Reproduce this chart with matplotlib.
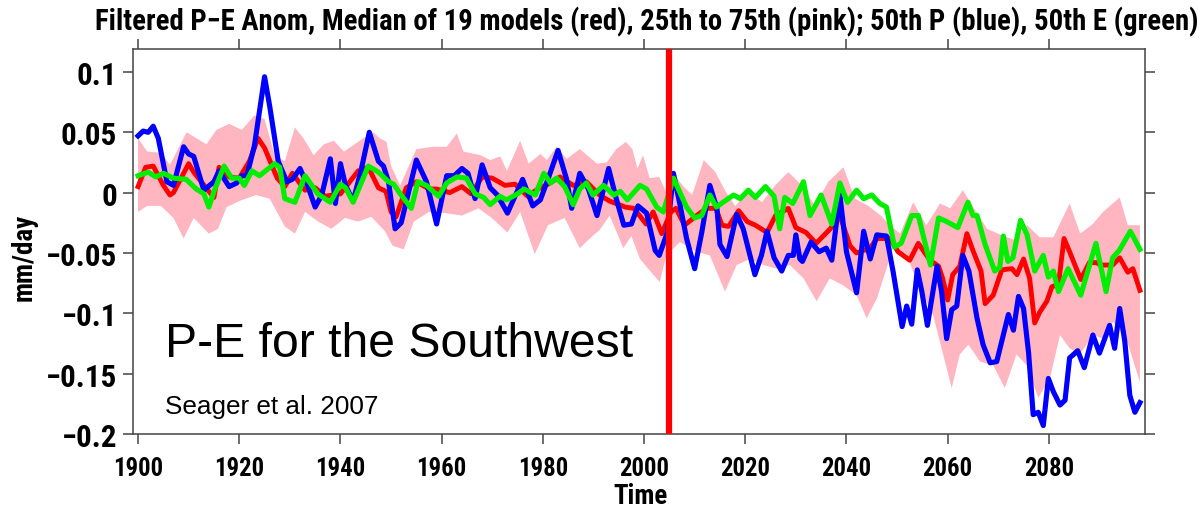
import matplotlib
matplotlib.use("Agg")
import matplotlib.pyplot as plt
from matplotlib import font_manager as fm
import numpy as np

# ---------------- data ----------------
title_text = "Filtered P\u2212E Anom, Median of 19 models (red), 25th to 75th (pink); 50th P (blue), 50th E (green)"
xticks = [1900, 1920, 1940, 1960, 1980, 2000, 2020, 2040, 2060, 2080]
yticks = [-0.2, -0.15, -0.1, -0.05, 0, 0.05, 0.1]
ytick_labels = ["\u22120.2", "\u22120.15", "\u22120.1", "\u22120.05", "0", "0.05", "0.1"]
marker_year = 2005

blue_years = [1900, 1901, 1902, 1903, 1904, 1905.7, 1907, 1909, 1910, 1911, 1913, 1915, 1916, 1918,
              1919.5, 1920.5, 1921.5, 1923, 1925, 1926, 1927.7, 1929.4, 1930.5, 1932, 1933.5, 1935,
              1936.3, 1938, 1939, 1940, 1941, 1942.5, 1944, 1945.7, 1947.5, 1948.5, 1949.5, 1950.8,
              1952, 1955, 1957, 1959, 1961, 1962.5, 1964, 1965.2, 1966.6, 1968, 1969.6, 1971, 1973,
              1974.6, 1976, 1978, 1979.5, 1981, 1983, 1984.7, 1985.7, 1987.3, 1989, 1990.7, 1993,
              1994.5, 1996, 1997.5, 1998.8, 2000.5, 2002.2, 2003, 2004.6, 2005.8, 2007.1, 2008.4,
              2010, 2011.4, 2013, 2014.4, 2015, 2016.4, 2018.3, 2019.6, 2021.9, 2023.2, 2024.3,
              2025.7, 2027.2, 2028.5, 2029.5, 2030, 2030.8, 2031.3, 2033, 2034.6, 2036, 2037.1,
              2038.7, 2040, 2042, 2043.4, 2044.7, 2046, 2047.9, 2049.2, 2051, 2051.9, 2052.9, 2054,
              2054.9, 2056, 2057.9, 2058.8, 2059.8, 2060.8, 2061.8, 2063, 2064.2, 2065.8, 2067,
              2068.4, 2069.7, 2072, 2073, 2074, 2075, 2076, 2076.9, 2077.9, 2078.9, 2079.9, 2080.9,
              2082.2, 2083.2, 2084.1, 2085.7, 2087, 2088.7, 2090, 2092, 2093, 2094, 2095, 2096,
              2097, 2098]
blue_vals = [0.047, 0.051, 0.050, 0.055, 0.045, 0.009, 0.006, 0.038, 0.032, 0.030, 0.002, 0.009, 0.018,
             0.005, 0.008, 0.014, 0.014, 0.039, 0.096, 0.072, 0.026, 0.009, 0.011, 0.020, 0.006, -0.012,
             -0.002, 0.028, -0.009, 0.024, 0.006, -0.007, 0.017, 0.050, 0.026, 0.022, 0.009, -0.030,
             -0.025, 0.027, 0.009, -0.026, 0.014, 0.014, 0.020, 0.016, -0.005, 0.023, 0.004, -0.002,
             -0.017, -0.002, 0.011, -0.011, -0.006, 0.011, 0.035, 0.011, -0.013, 0.016, 0.003, -0.019,
             0.020, -0.005, -0.027, -0.026, -0.011, -0.017, -0.048, -0.052, -0.033, 0.016, -0.010,
             -0.038, -0.063, -0.033, 0.006, -0.013, -0.043, -0.053, -0.018, -0.030, -0.068, -0.052,
             -0.032, -0.054, -0.065, -0.052, -0.052, -0.035, -0.055, -0.057, -0.041, -0.049, -0.046,
             -0.056, -0.002, -0.049, -0.083, -0.032, -0.055, -0.035, -0.036, -0.065, -0.111, -0.094,
             -0.109, -0.064, -0.082, -0.110, -0.061, -0.082, -0.121, -0.097, -0.094, -0.052, -0.065,
             -0.104, -0.126, -0.141, -0.140, -0.101, -0.114, -0.086, -0.096, -0.133, -0.184, -0.182,
             -0.193, -0.154, -0.165, -0.176, -0.172, -0.137, -0.131, -0.145, -0.118, -0.133, -0.110,
             -0.129, -0.096, -0.123, -0.168, -0.182, -0.174]

red_years = [1900, 1901.5, 1903, 1905, 1906.3, 1907, 1910, 1911, 1914, 1915, 1916, 1918, 1920, 1922,
             1923.7, 1925, 1927.5, 1929, 1930.5, 1933, 1935, 1937, 1940, 1943.5, 1945.5, 1947.5,
             1949, 1950, 1951, 1953, 1955, 1957.5, 1959, 1961.6, 1964, 1965.8, 1968, 1970, 1972.5,
             1974.5, 1977, 1979, 1981, 1983.4, 1986, 1988.6, 1991.2, 1993.2, 1996.3, 1998, 2000.4,
             2001.8, 2003.5, 2005.3, 2006.3, 2008, 2010.4, 2012.3, 2014.2, 2015.4, 2016.7, 2018.7,
             2020.4, 2022, 2024.3, 2026, 2028.5, 2030, 2032, 2034, 2036.8, 2038.7, 2040.7, 2042,
             2044.7, 2046, 2048.6, 2050.2, 2052.5, 2054.2, 2056.5, 2058.2, 2059, 2060, 2061, 2062.4,
             2063.8, 2065, 2066.6, 2067.4, 2069, 2070.7, 2072.7, 2073.7, 2075, 2076.2, 2077.2,
             2078.2, 2079.6, 2080.6, 2081.9, 2083, 2084.1, 2086.3, 2088, 2089.4, 2090.3, 2092.6,
             2094, 2095.6, 2096.6, 2098]
red_vals = [0.005, 0.021, 0.022, 0.006, -0.002, 0.000, 0.024, 0.017, 0.001, -0.004, 0.021, 0.013, 0.012,
            0.026, 0.045, 0.037, 0.012, 0.005, 0.016, 0.002, 0.004, -0.003, -0.001, 0.018, 0.021, 0.004,
            0.001, -0.016, -0.020, 0.004, 0.009, 0.003, 0.003, 0.000, 0.005, -0.001, 0.013, 0.012, 0.006,
            0.007, -0.003, 0.003, 0.007, 0.013, 0.006, 0.009, -0.002, -0.007, -0.012, -0.013, -0.026,
            -0.016, -0.034, -0.016, -0.013, -0.027, -0.019, -0.013, -0.013, -0.027, -0.028, -0.015,
            -0.024, -0.027, -0.033, -0.019, -0.013, -0.029, -0.033, -0.042, -0.030, -0.019, -0.044,
            -0.050, -0.046, -0.038, -0.038, -0.049, -0.056, -0.042, -0.056, -0.061, -0.071, -0.089,
            -0.068, -0.061, -0.034, -0.048, -0.065, -0.092, -0.085, -0.064, -0.063, -0.068, -0.055,
            -0.071, -0.108, -0.099, -0.090, -0.078, -0.076, -0.038, -0.049, -0.072, -0.058, -0.058,
            -0.060, -0.060, -0.054, -0.066, -0.063, -0.081]

green_years = [1900, 1902, 1903.5, 1905, 1907, 1909.5, 1911.5, 1913, 1914, 1915, 1917, 1918.5, 1920,
               1921, 1922.5, 1924, 1925.5, 1927, 1928, 1929, 1931, 1933, 1935.5, 1938, 1940, 1941,
               1942.5, 1945.5, 1947.5, 1949.5, 1950.5, 1952, 1954, 1955.3, 1957, 1959.4, 1961, 1963,
               1964.9, 1966.6, 1968.3, 1969.6, 1971.5, 1972.8, 1975, 1976.3, 1978.5, 1980.2, 1981.5,
               1982.7, 1984.3, 1986, 1987.3, 1988.6, 1989.9, 1992, 1994, 1995.3, 1996.7, 1999.2,
               2000.5, 2002.5, 2003.8, 2005.8, 2007, 2008.4, 2010, 2011.4, 2013, 2014.3, 2015.6,
               2017.7, 2019, 2020.6, 2022, 2024, 2025.7, 2026.8, 2027.8, 2029.4, 2031.5, 2032.8,
               2035, 2037.1, 2038.7, 2040.2, 2042, 2043.4, 2045, 2046.6, 2047.9, 2049.5, 2050.8,
               2052.9, 2054.2, 2056.6, 2058.2, 2059.8, 2062, 2064, 2065, 2065.8, 2067.4, 2069.3,
               2070.3, 2071, 2071.9, 2072.9, 2074.4, 2075.7, 2077.2, 2078.9, 2079.9, 2080.9, 2081.9,
               2083.8, 2086.3, 2089.3, 2091.3, 2092.6, 2093.9, 2096.1, 2098]
green_vals = [0.014, 0.017, 0.013, 0.016, 0.012, 0.011, 0.003, -0.001, -0.012, 0.001, 0.022, 0.012,
              0.012, 0.006, 0.018, 0.014, 0.019, 0.024, 0.021, -0.005, -0.008, 0.014, -0.001, -0.008,
              0.007, 0.004, -0.008, 0.022, 0.017, 0.009, 0.007, -0.002, -0.013, 0.009, 0.006, -0.003,
              0.008, 0.013, 0.012, -0.001, -0.004, -0.010, -0.003, -0.006, -0.001, 0.003, -0.002, 0.016,
              0.008, 0.012, 0.005, -0.010, 0.003, 0.008, -0.002, 0.006, -0.002, 0.001, -0.006, 0.006,
              0.003, -0.012, -0.016, 0.012, 0.001, -0.012, -0.021, -0.019, -0.002, -0.012, -0.008,
              -0.002, -0.005, 0.002, -0.004, 0.005, -0.003, -0.030, -0.004, -0.009, 0.009, -0.019,
              -0.002, -0.026, 0.008, -0.008, 0.002, -0.005, -0.002, -0.009, -0.012, -0.045, -0.042,
              -0.019, -0.019, -0.060, -0.021, -0.024, -0.029, -0.008, -0.019, -0.019, -0.043, -0.065,
              -0.062, -0.036, -0.057, -0.054, -0.023, -0.035, -0.065, -0.052, -0.070, -0.065, -0.082,
              -0.063, -0.085, -0.042, -0.082, -0.054, -0.048, -0.032, -0.047]

pink_up_years = [1900, 1901.8, 1904.5, 1906.3, 1909.6, 1913.5, 1915.5, 1918, 1920.5, 1923, 1925, 1927,
                 1929, 1931, 1932.7, 1934.7, 1936.7, 1938.7, 1940.7, 1944.5, 1946.5, 1947.8, 1949.1,
                 1950, 1951.8, 1955, 1958.3, 1961, 1963, 1964.3, 1967.7, 1969.6, 1971.6, 1972.9,
                 1975.5, 1977.2, 1979.5, 1980.8, 1982.7, 1984.7, 1987.3, 1989, 1990.7, 1992.6, 1994.5,
                 1996.4, 1997.7, 1998.7, 1999.8, 2001.1, 2003, 2004.3, 2005.6, 2007.6, 2009.5, 2011.8,
                 2014.1, 2016.1, 2018, 2020.7, 2023.3, 2025.9, 2028.5, 2031.2, 2033.8, 2036.4, 2039.4,
                 2041.7, 2044.3, 2046.8, 2048.6, 2050.6, 2053.2, 2055.8, 2058.5, 2060.5, 2063, 2065.2,
                 2067.8, 2070.5, 2073.1, 2075.7, 2078.2, 2080.9, 2084.1, 2086.2, 2088.7, 2090.7, 2094,
                 2095.6, 2098]
pink_up_vals = [0.045, 0.034, 0.033, 0.023, 0.050, 0.040, 0.052, 0.057, 0.052, 0.064, 0.061, 0.031,
                0.026, 0.054, 0.045, 0.031, 0.040, 0.043, 0.034, 0.045, 0.050, 0.045, 0.042, 0.022,
                0.006, 0.036, 0.038, 0.038, 0.049, 0.034, 0.031, 0.027, 0.030, 0.018, 0.043, 0.024,
                0.032, 0.027, 0.038, 0.028, 0.036, 0.030, 0.024, 0.025, 0.036, 0.042, 0.036, 0.020,
                0.031, 0.012, 0.013, 0.001, 0.017, 0.006, -0.002, 0.027, 0.017, 0.001, -0.011, 0.001,
                -0.008, 0.006, 0.017, 0.006, -0.011, 0.009, 0.021, -0.005, -0.011, -0.019, -0.027,
                -0.034, -0.008, -0.027, -0.009, -0.013, 0.002, -0.013, -0.030, -0.035, -0.039, -0.027,
                -0.037, -0.037, -0.009, -0.034, -0.026, -0.016, -0.004, -0.027, -0.027]

pink_lo_years = [1900, 1901.8, 1904.5, 1907, 1909, 1911, 1914, 1915.8, 1917.5, 1920, 1923.3, 1926,
                 1929, 1931, 1933, 1935.6, 1938.2, 1940.9, 1943.5, 1946.1, 1948.8, 1950.3, 1952.5,
                 1954.5, 1957.5, 1960.8, 1964, 1967.3, 1969.9, 1973, 1975.5, 1978.4, 1981, 1984.3,
                 1987.3, 1989.3, 1991.2, 1993.2, 1995.9, 1997.5, 1999.2, 2001.2, 2003.1, 2004.4,
                 2007.1, 2010.4, 2013, 2016, 2018.3, 2020.9, 2023.6, 2026.2, 2028.8, 2031.5, 2034.1,
                 2036.7, 2039.4, 2042, 2044, 2046, 2049.2, 2051.9, 2054.5, 2057.1, 2060.8, 2062.4,
                 2064.1, 2066.4, 2069, 2071.3, 2073.6, 2075.6, 2077.9, 2080.2, 2082.2, 2084.1, 2086.1,
                 2088.8, 2090.7, 2092.7, 2095.3, 2098]
pink_lo_vals = [-0.016, -0.011, -0.011, -0.021, -0.038, -0.021, -0.034, -0.030, -0.012, -0.007, -0.002,
                -0.005, -0.028, -0.034, -0.016, -0.024, -0.030, -0.021, -0.024, -0.020, -0.032, -0.044,
                -0.047, -0.024, -0.016, -0.017, -0.019, -0.013, -0.021, -0.033, -0.016, -0.051, -0.027,
                -0.021, -0.046, -0.038, -0.031, -0.019, -0.046, -0.036, -0.055, -0.065, -0.074, -0.052,
                -0.041, -0.049, -0.052, -0.082, -0.060, -0.055, -0.060, -0.063, -0.060, -0.071, -0.090,
                -0.071, -0.077, -0.085, -0.104, -0.088, -0.046, -0.052, -0.079, -0.101, -0.162, -0.134,
                -0.126, -0.140, -0.143, -0.162, -0.134, -0.143, -0.170, -0.154, -0.118, -0.129, -0.134,
                -0.118, -0.121, -0.107, -0.121, -0.157]

# ---------------- fonts ----------------
names = {f.name for f in fm.fontManager.ttflist}
narrow = None
for cand in ["Liberation Sans Narrow", "Arial Narrow", "Nimbus Sans Narrow", "Roboto Condensed",
             "Archivo Narrow", "PT Sans Narrow", "Barlow Semi Condensed"]:
    if cand in names:
        narrow = cand
        break
bold_family = [narrow, "Liberation Sans", "DejaVu Sans"] if narrow else ["Liberation Sans", "DejaVu Sans"]
plain_family = ["Liberation Sans", "DejaVu Sans"]

W, H = 1203, 510
fig = plt.figure(figsize=(W / 100, H / 100), dpi=100)
renderer = fig.canvas.get_renderer()


def fit(txt, target_px, **kw):
    t = fig.text(0, 0, txt, fontsize=20, **kw)
    w = t.get_window_extent(renderer=renderer).width
    t.remove()
    return 20.0 * target_px / w


fs_title = fit(title_text, 1100, family=bold_family, weight="bold")
fs_xt = fit("1900", 50, family=bold_family, weight="bold")
fs_yt = fit("\u22120.15", 71, family=bold_family, weight="bold")
fs_lab = fit("Time", 54, family=bold_family, weight="bold")
fs_big = fit("P-E for the Southwest", 467, family=plain_family)
fs_small = fit("Seager et al. 2007", 213, family=plain_family)

L, R, B, T = 133, 1145, 435, 50
ax = fig.add_axes([L / W, 1 - B / H, (R - L) / W, (B - T) / H])

ax.fill(list(pink_up_years) + list(pink_lo_years[::-1]),
        list(pink_up_vals) + list(pink_lo_vals[::-1]),
        color="#ffb6c1", lw=0, zorder=1)
ax.plot(red_years, red_vals, color="#ff0000", lw=3.5, zorder=2, solid_joinstyle="round")
ax.plot(blue_years, blue_vals, color="#0000ff", lw=3.7, zorder=3, solid_joinstyle="round")
ax.plot(green_years, green_vals, color="#00ee00", lw=3.7, zorder=4, solid_joinstyle="round")
ax.axvline(marker_year, ymin=0.008, ymax=1.0, color="#ff0000", lw=4.5, zorder=5)

ax.set_xlim(1899, 2099)
ax.set_ylim(-0.2, 0.119)
ax.set_xticks(xticks)
ax.set_xticklabels([str(v) for v in xticks])
ax.set_yticks(yticks)
ax.set_yticklabels(ytick_labels)
for sp in ax.spines.values():
    sp.set_color("#444444")
    sp.set_linewidth(1.1)
ax.tick_params(axis="both", direction="out", length=7.2, width=1.1, color="#444444",
               top=True, right=True, labeltop=False, labelright=False)
ax.tick_params(axis="x", pad=9)
ax.tick_params(axis="y", pad=4.3)
for lab in ax.get_xticklabels():
    lab.set_fontfamily(bold_family)
    lab.set_fontweight("bold")
    lab.set_fontsize(fs_xt)
for lab in ax.get_yticklabels():
    lab.set_fontfamily(bold_family)
    lab.set_fontweight("bold")
    lab.set_fontsize(fs_yt)

fig.text(647 / W, 1 - 30 / H, title_text, ha="center", va="baseline",
         family=bold_family, weight="bold", fontsize=fs_title)
fig.text(640 / W, 1 - 504 / H, "Time", ha="center", va="baseline",
         family=bold_family, weight="bold", fontsize=fs_lab)
fig.text(24 / W, 1 - 257 / H, "mm/day", ha="center", va="center", rotation=90,
         family=bold_family, weight="bold", fontsize=fs_lab)

ax.text((165 - L) / (R - L), (B - 357) / (B - T), "P-E for the Southwest", transform=ax.transAxes,
        ha="left", va="baseline", family=plain_family, fontsize=fs_big, color="black", zorder=6)
ax.text((165 - L) / (R - L), (B - 414) / (B - T), "Seager et al. 2007", transform=ax.transAxes,
        ha="left", va="baseline", family=plain_family, fontsize=fs_small, color="black", zorder=6)

fig.savefig("out.png", dpi=100)
